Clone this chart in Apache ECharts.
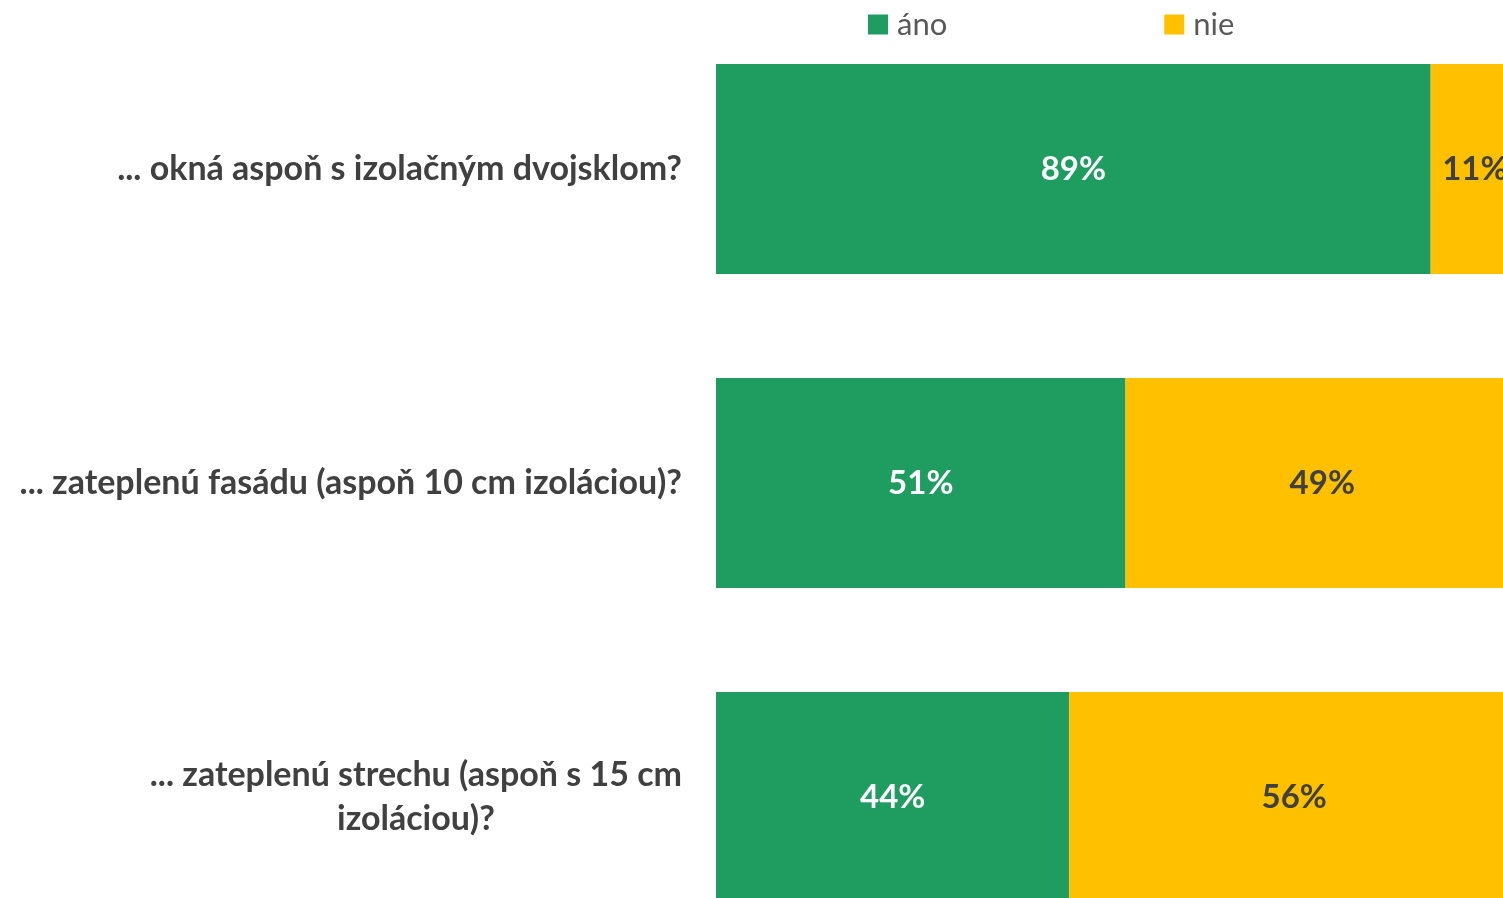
<!DOCTYPE html>
<html>
<head>
<meta charset="utf-8">
<script src="https://cdn.jsdelivr.net/npm/echarts@6/dist/echarts.min.js"></script>
<style>
html,body{margin:0;padding:0;background:#fff;}
#chart{width:1503px;height:898px;}
</style>
</head>
<body>
<div id="chart"></div>
<script>
const categories = [
  "... okná aspoň s izolačným dvojsklom?",
  "... zateplenú fasádu (aspoň 10 cm izoláciou)?",
  "... zateplenú strechu (aspoň s 15 cm\nizoláciou)?"
];
const seriesNames = ["áno", "nie"];
const anoValues = [89, 51, 44];
const nieValues = [11, 49, 56];

const chart = echarts.init(document.getElementById('chart'));
const FONT = 'Lato, "Open Sans", sans-serif';
chart.setOption({
  animation: false,
  backgroundColor: '#ffffff',
  legend: {
    data: seriesNames,
    left: 863,
    top: 4,
    icon: 'rect',
    itemWidth: 20,
    itemHeight: 20,
    itemGap: 217,
    textStyle: { fontFamily: FONT, fontSize: 31, color: '#595959', padding: [0, 0, 0, 4] }
  },
  grid: { left: 716, top: 12, width: 803, height: 942, containLabel: false, outerBoundsMode: 'none' },
  xAxis: {
    type: 'value', min: 0, max: 100, show: false
  },
  yAxis: {
    type: 'category', data: categories, inverse: true,
    axisLine: { show: false }, axisTick: { show: false },
    axisLabel: {
      margin: 34,
      formatter: function (v) { return '{c|' + v.split('\n').join('}\n{c|') + '}'; },
      rich: {
        c: { align: 'center', fontFamily: FONT, fontWeight: 'bold', fontSize: 34, color: '#404040', lineHeight: 44 }
      }
    }
  },
  series: [
    {
      name: seriesNames[0], type: 'bar', stack: 'total', barWidth: 210, data: anoValues,
      itemStyle: { color: '#1F9C5F' },
      label: { show: true, position: 'inside', formatter: '{c}%', fontFamily: FONT, fontWeight: 'bold', fontSize: 33, color: '#ffffff' }
    },
    {
      name: seriesNames[1], type: 'bar', stack: 'total', barWidth: 210, data: nieValues,
      itemStyle: { color: '#FFC000' },
      label: { show: true, position: 'inside', formatter: '{c}%', fontFamily: FONT, fontWeight: 'bold', fontSize: 33, color: '#404040' }
    }
  ]
});
</script>
</body>
</html>
